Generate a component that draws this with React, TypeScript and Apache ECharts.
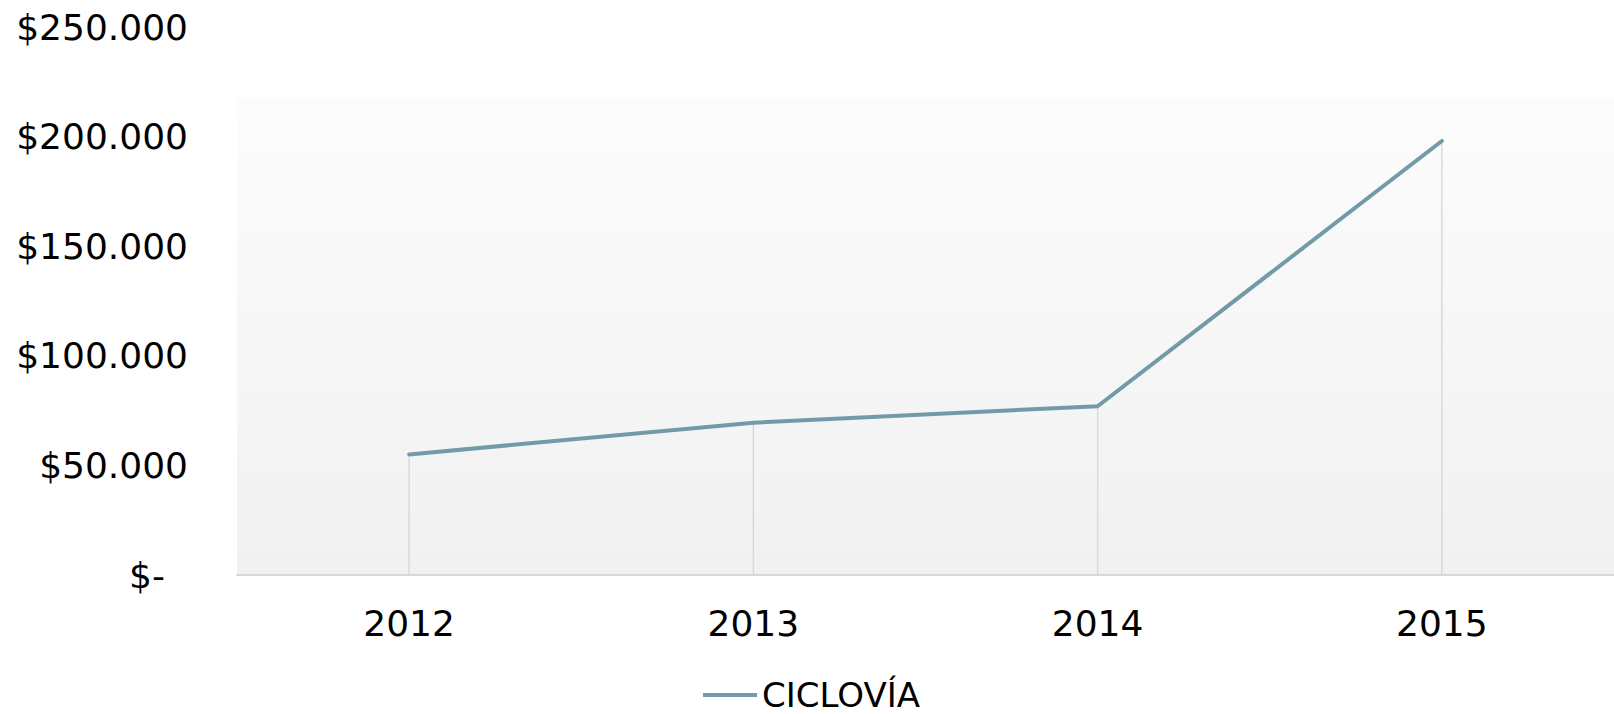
import React, { useEffect, useRef } from "react";
import * as echarts from "echarts";

const categories = ["2012", "2013", "2014", "2015"];
const seriesName = "CICLOVÍA";
const values = [55000, 69500, 77000, 198000];
const yTicks = { min: 0, max: 250000, interval: 50000 };

const fmt = (v: number): string => {
  if (v === 0) return "{z|$-}";
  const s = String(Math.round(v)).replace(/\B(?=(\d{3})+(?!\d))/g, ".");
  return "$" + s;
};

const FONT = "DejaVu Sans";

export default function App() {
  const ref = useRef<HTMLDivElement>(null);
  useEffect(() => {
    if (!ref.current) return;
    const chart = echarts.init(ref.current, null, { renderer: "svg" });
    chart.setOption({
      animation: false,
      backgroundColor: "#ffffff",
      grid: {
        left: 237,
        right: 0,
        top: 27,
        bottom: 139,
        show: true,
        borderWidth: 0,
        backgroundColor: new echarts.graphic.LinearGradient(0, 0, 0, 1, [
          { offset: 0, color: "#ffffff" },
          { offset: 0.128, color: "#ffffff" },
          { offset: 0.13, color: "#fcfcfc" },
          { offset: 1, color: "#f1f1f1" },
        ]),
      },
      legend: {
        data: [seriesName],
        left: 703,
        top: 677,
        padding: 0,
        icon: "rect",
        itemWidth: 54,
        itemHeight: 4,
        textStyle: { fontFamily: FONT, fontSize: 34, lineHeight: 36, color: "#000000" },
      },
      xAxis: {
        type: "category",
        data: categories,
        boundaryGap: true,
        axisTick: { show: false },
        axisLine: { lineStyle: { color: "#d9d9d9", width: 2 } },
        axisLabel: { fontFamily: FONT, fontSize: 36, color: "#000000", margin: 30 },
        splitLine: { show: false },
      },
      yAxis: {
        type: "value",
        min: yTicks.min,
        max: yTicks.max,
        interval: yTicks.interval,
        axisLine: { show: false },
        axisTick: { show: false },
        splitLine: { show: false },
        axisLabel: {
          fontFamily: FONT,
          fontSize: 36,
          color: "#000000",
          margin: 49,
          formatter: fmt,
          rich: {
            z: { fontFamily: FONT, fontSize: 36, color: "#000000", padding: [0, 23, 0, 0] },
          },
        },
      },
      series: [
        {
          name: "drop",
          type: "bar",
          data: values,
          barWidth: 1.5,
          itemStyle: { color: "#d9d9d9" },
          silent: true,
          z: 1,
        },
        {
          name: seriesName,
          type: "line",
          data: values,
          showSymbol: false,
          symbol: "none",
          itemStyle: { color: "#729ba7" },
          lineStyle: { color: "#729ba7", width: 4, cap: "round", join: "round" },
          z: 3,
        },
      ],
    });
    return () => chart.dispose();
  }, []);
  return (
    <div
      ref={ref}
      style={{ position: "absolute", left: 0, top: 0, width: 1614, height: 714 }}
    />
  );
}
